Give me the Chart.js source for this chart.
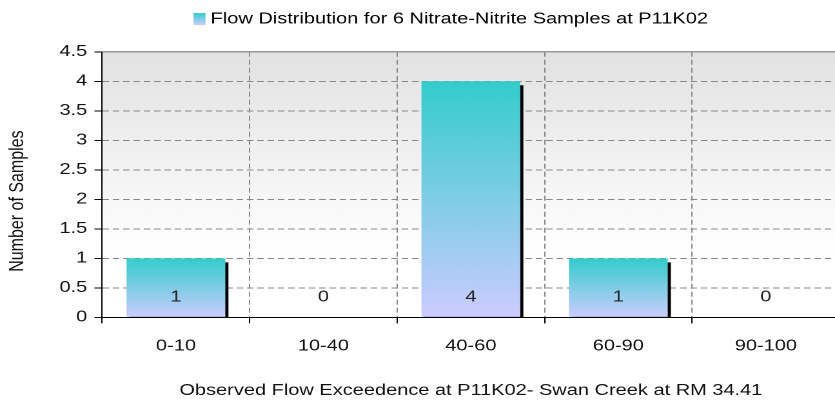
<!DOCTYPE html>
<html>
<head>
<meta charset="utf-8">
<script src="https://cdn.jsdelivr.net/npm/chart.js@4/dist/chart.umd.min.js"></script>
<style>
html,body{margin:0;padding:0;overflow:hidden;background:#fff;}
#wrap{width:701px;height:400px;position:relative;transform:scaleX(1.2896);transform-origin:0 0;}
</style>
</head>
<body>
<div id="wrap"><canvas id="c"></canvas></div>
<script>
const categories = ["0-10", "10-40", "40-60", "60-90", "90-100"];
const sampleCounts = [1, 0, 4, 1, 0];
const seriesLabel = "Flow Distribution for 6 Nitrate-Nitrite Samples at P11K02";
const xTitle = "Observed Flow Exceedence at P11K02- Swan Creek at RM 34.41";
const yTitle = "Number of Samples";
const yMin = 0, yMax = 4.5, yStep = 0.5;

const FONT = "'Liberation Sans', Arial, sans-serif";
const FS = 15.5;
const LFS = 15.5;
const YT_FS = 16;
const TOP_COL = '#33CCCC', BOT_COL = '#CCCCFF';
const SWATCH_W = 9.3, SWATCH_H = 12;
const LEGEND_SHIFT = 24;
const LEGEND_PAD = 10.3;
const YTITLE_BAND = 40.5;

function barGradient(ctx) {
  const chart = ctx.chart;
  const y = chart.scales && chart.scales.y;
  if (!chart.chartArea || !y || ctx.type !== 'data') return TOP_COL;
  const top = y.getPixelForValue(ctx.raw);
  const bot = y.getPixelForValue(0);
  if (!(bot - top > 0)) return TOP_COL;
  const g = chart.ctx.createLinearGradient(0, top, 0, bot);
  g.addColorStop(0, TOP_COL);
  g.addColorStop(1, BOT_COL);
  return g;
}

const legendSpace = {
  id: 'legendSpace',
  beforeInit(chart) {
    const orig = chart.legend.fit;
    chart.legend.fit = function () {
      orig.bind(chart.legend)();
      this.height += 15;
    };
  },
  afterLayout(chart) {
    const lg = chart.legend;
    if (!lg) return;
    lg.left += LEGEND_SHIFT;
    lg.right += LEGEND_SHIFT;
    if (typeof lg.adjustHitBoxes === 'function') lg.adjustHitBoxes();
  }
};

const bgPlugin = {
  id: 'bg',
  beforeDraw(chart) {
    const a = chart.chartArea, c = chart.ctx;
    const g = c.createLinearGradient(0, a.top, 0, a.bottom);
    g.addColorStop(0, '#e2e2e2');
    g.addColorStop(0.75, '#ffffff');
    g.addColorStop(1, '#ffffff');
    c.save();
    c.fillStyle = g;
    c.fillRect(a.left, a.top, a.right - a.left, a.bottom - a.top);
    c.restore();
  },
  afterDraw(chart) {
    const a = chart.chartArea, c = chart.ctx;
    c.save();
    c.strokeStyle = '#999999';
    c.lineWidth = 1.5;
    c.beginPath();
    c.moveTo(a.left, a.top);
    c.lineTo(a.right, a.top);
    c.lineTo(a.right, a.bottom);
    c.stroke();
    c.restore();
    // y axis title, placed from the y scale's own box
    const ys = chart.scales.y;
    c.save();
    c.translate(ys.left + 13.6, (a.top + a.bottom) / 2 + 16.5);
    c.rotate(-Math.PI / 2);
    c.fillStyle = '#111';
    c.font = YT_FS + 'px ' + FONT;
    c.textAlign = 'center';
    c.textBaseline = 'middle';
    c.fillText(yTitle, 0, 0);
    c.restore();
    const lg = chart.legend;
    if (lg && lg.legendHitBoxes && lg.legendHitBoxes[0]) {
      const hb = lg.legendHitBoxes[0];
      const itemH = Math.max(LFS, lg.options.labels.boxHeight);
      const bx = hb.left;
      const by = lg.top + LEGEND_PAD + (itemH - SWATCH_H) / 2;
      const g = c.createLinearGradient(0, by, 0, by + SWATCH_H);
      g.addColorStop(0, TOP_COL);
      g.addColorStop(1, BOT_COL);
      c.save();
      c.fillStyle = g;
      c.fillRect(bx, by, SWATCH_W, SWATCH_H);
      c.restore();
    }
  }
};

const shadowPlugin = {
  id: 'shadow',
  beforeDatasetsDraw(chart) {
    const c = chart.ctx;
    c.save();
    c.shadowColor = '#000000';
    c.shadowOffsetX = 2.4 * chart.currentDevicePixelRatio;
    c.shadowOffsetY = 4 * chart.currentDevicePixelRatio;
    c.shadowBlur = 0;
  },
  afterDatasetsDraw(chart) {
    chart.ctx.restore();
    const c = chart.ctx;
    const meta = chart.getDatasetMeta(0);
    const y = chart.scales.y;
    const base = y.getPixelForValue(0);
    c.save();
    c.fillStyle = '#222222';
    c.font = FS + 'px ' + FONT;
    c.textAlign = 'center';
    c.textBaseline = 'middle';
    meta.data.forEach((el, i) => {
      c.fillText(String(chart.data.datasets[0].data[i]), el.x, base - 20);
    });
    c.restore();
  }
};

new Chart(document.getElementById('c'), {
  type: 'bar',
  data: {
    labels: categories,
    datasets: [{
      label: seriesLabel,
      data: sampleCounts,
      backgroundColor: barGradient,
      borderWidth: 0,
      categoryPercentage: 1.0,
      barPercentage: 0.67,
      clip: 0
    }]
  },
  options: {
    responsive: true,
    maintainAspectRatio: false,
    animation: false,
    devicePixelRatio: 2,
    events: [],
    layout: { padding: { left: 0, right: 50, top: 1, bottom: 0 } },
    plugins: {
      tooltip: { enabled: false },
      legend: {
        display: true,
        position: 'top',
        labels: {
          boxWidth: 5.5, boxHeight: 12, padding: LEGEND_PAD,
          color: '#111',
          font: { family: FONT, size: LFS },
          generateLabels: (chart) => [{
            text: chart.data.datasets[0].label,
            fillStyle: 'rgba(0,0,0,0)',
            strokeStyle: 'rgba(0,0,0,0)',
            lineWidth: 0,
            hidden: false,
            datasetIndex: 0
          }]
        }
      }
    },
    scales: {
      x: {
        grid: {
          offset: true,
          color: '#888888',
          lineWidth: 1,
          tickColor: '#000',
          tickLength: 6,
          drawTicks: true
        },
        border: { display: true, color: '#000', width: 1, dash: [5, 3] },
        ticks: { color: '#111', font: { family: FONT, size: FS }, padding: 13.7, maxRotation: 0 },
        title: { display: true, text: xTitle, color: '#111', font: { family: FONT, size: FS }, padding: { top: 12, bottom: 0 } }
      },
      y: {
        min: yMin, max: yMax,
        afterFit: (scale) => { scale.width += YTITLE_BAND; },
        grid: {
          color: '#888888',
          lineWidth: 1,
          tickColor: '#000',
          tickLength: 6
        },
        border: { display: true, color: '#000', width: 1, dash: [5, 3] },
        ticks: {
          stepSize: yStep, color: '#111', font: { family: FONT, size: FS }, padding: 5.6,
          callback: (v) => String(Math.round(v * 10) / 10)
        },
        title: { display: false }
      }
    }
  },
  plugins: [legendSpace, bgPlugin, shadowPlugin]
});
</script>
</body>
</html>
